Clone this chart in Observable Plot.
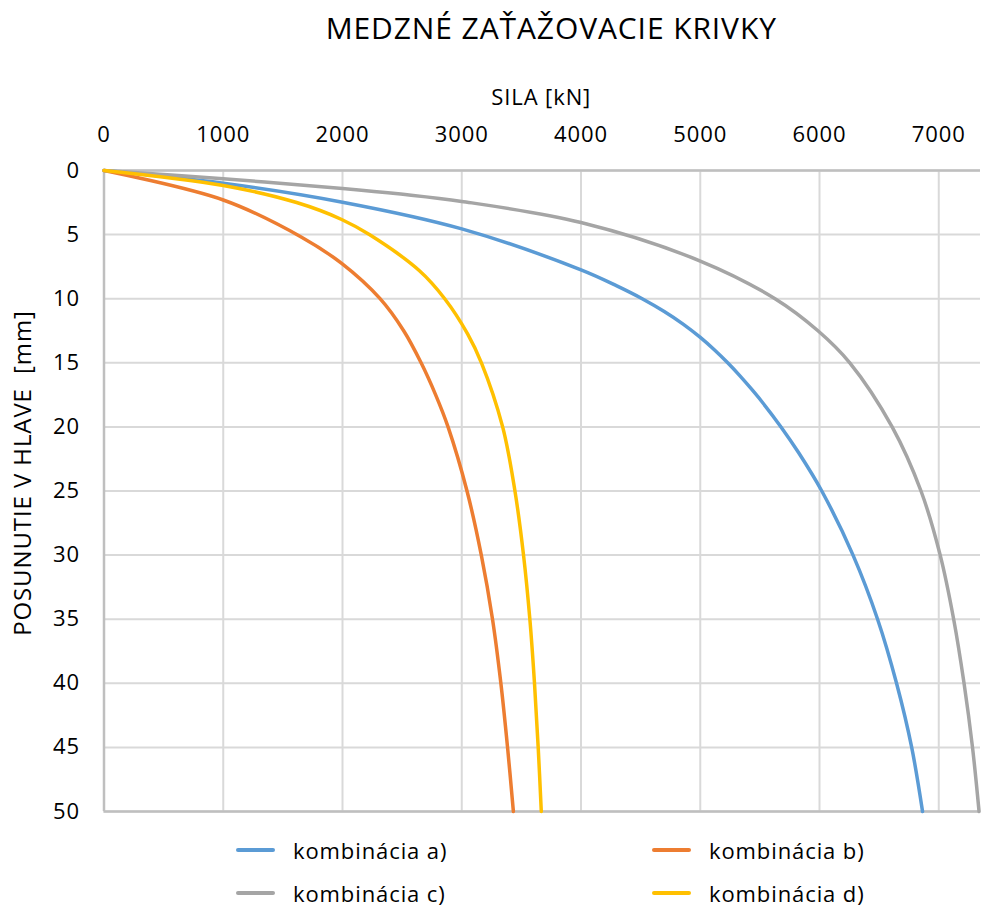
<!DOCTYPE html>
<html><head><meta charset="utf-8">
<script src="https://cdn.jsdelivr.net/npm/d3@7"></script>
<script src="https://cdn.jsdelivr.net/npm/@observablehq/plot@0.6"></script>
<style>
body{margin:0;background:#fff;font-family:"Open Sans",sans-serif;}
#wrap{position:relative;width:989px;height:909px;overflow:hidden;background:#fff;}
#wrap svg{position:absolute;left:0;top:0;}
#wrap svg text{letter-spacing:0.9px;}
.leg{position:absolute;display:flex;align-items:center;height:30px;font-size:22px;letter-spacing:0.9px;color:#000;white-space:nowrap;}
.sw{width:39px;height:4px;border-radius:2px;margin-right:18px;}
</style></head><body><div id="wrap"></div>
<script>
const title = "MEDZNÉ ZAŤAŽOVACIE KRIVKY";
const xLabel = "SILA [kN]";
const yLabel = "POSUNUTIE V HLAVE\u00a0 [mm]";
const seriesNames = ["kombinácia a)", "kombinácia b)", "kombinácia c)", "kombinácia d)"];
const seriesColors = ["#5b9bd5", "#ed7d31", "#a5a5a5", "#ffc000"];
const xTicks = [0, 1000, 2000, 3000, 4000, 5000, 6000, 7000];
const yTicks = [0, 5, 10, 15, 20, 25, 30, 35, 40, 45, 50];

// kombinácia a)
const forceA = [0, 1000, 2000, 3000, 4000, 4300, 4513, 4698, 4859, 4998, 5120, 5230, 5331, 5425, 5514, 5677, 5824, 6019, 6281, 6487, 6646, 6773, 6864];
const dispA  = [0, 0.99, 2.47, 4.55, 7.75, 9, 10, 11, 12, 13, 14, 15, 16, 17, 18, 20, 22, 25, 30, 35, 40, 45, 50];
// kombinácia b)
const forceB = [0, 1000, 1657, 1993, 2315, 2513, 2659, 2781, 2885, 3044, 3164, 3258, 3328, 3384, 3433];
const dispB  = [0, 2.3, 5.2, 7.25, 10, 12.5, 15, 17.5, 20, 25, 30, 35, 40, 45, 50];
// kombinácia c)
const forceC = [0, 1000, 2000, 2488, 3000, 4000, 5000, 5627, 5987, 6254, 6609, 6851, 7012, 7125, 7212, 7283, 7338];
const dispC  = [0, 0.65, 1.40, 1.84, 2.41, 4.06, 7.06, 10, 12.5, 15, 20, 25, 30, 35, 40, 45, 50];
// kombinácia d)
const forceD = [0, 1000, 1615, 1993, 2225, 2643, 2857, 3049, 3165, 3343, 3446, 3518, 3571, 3610, 3641, 3667];
const dispD  = [0, 1.17, 2.5, 3.82, 5, 7.8, 10, 12.74, 15, 20, 25, 30, 35, 40, 45, 50];

const allForce = [forceA, forceB, forceC, forceD];
const allDisp = [dispA, dispB, dispC, dispD];
const rows = [];
allForce.forEach((f, s) => f.forEach((v, i) => rows.push({series: seriesNames[s], force: v, disp: allDisp[s][i]})));

const W = 989, H = 830;
const gridColor = "#d9d9d9", axisColor = "#bfbfbf";

const chart = Plot.plot({
  width: W, height: H,
  marginLeft: 103.5, marginRight: 9, marginTop: 170, marginBottom: H - 811,
  style: {fontFamily: "'Open Sans', sans-serif", background: "#fff", color: "#000"},
  x: {domain: [0, 7350], ticks: xTicks, label: null},
  y: {domain: [0, 50], reverse: true, ticks: yTicks, label: null},
  color: {domain: seriesNames, range: seriesColors},
  marks: [
    Plot.gridX(xTicks, {stroke: gridColor, strokeOpacity: 1, strokeWidth: 2}),
    Plot.gridY(yTicks, {stroke: gridColor, strokeOpacity: 1, strokeWidth: 2}),
    Plot.ruleY([0, 50], {stroke: axisColor, strokeWidth: 2.5}),
    Plot.ruleX([0], {stroke: axisColor, strokeWidth: 2.5}),
    Plot.axisX(xTicks, {anchor: "top", tickSize: 0, tickPadding: 29, fontSize: 22, label: null, fill: "#000", tickFormat: d => String(d)}),
    Plot.axisY(yTicks, {anchor: "left", tickSize: 0, tickPadding: 24, fontSize: 22, label: null, fill: "#000", tickFormat: d => String(d)}),
    Plot.line(rows, {x: "force", y: "disp", z: "series", stroke: "series", strokeWidth: 3.5, curve: "catmull-rom"}),
    Plot.text([title], {text: d => d, frameAnchor: "top", lineAnchor: "bottom", dx: 9, dy: -132, fontSize: 30, fill: "#000"}),
    Plot.text([xLabel], {text: d => d, frameAnchor: "top", lineAnchor: "bottom", dx: -1, dy: -66, fontSize: 22, fill: "#000"}),
    Plot.text([yLabel], {text: d => d, frameAnchor: "left", textAnchor: "middle", rotate: -90, lineAnchor: "middle", dx: -80.5, dy: -18, fontSize: 24, fill: "#000"})
  ]
});
const wrap = document.getElementById("wrap");
wrap.appendChild(chart);

const legPos = [[236, 850], [652, 850], [236, 893], [652, 893]];
seriesNames.forEach((name, i) => {
  const d = document.createElement("div");
  d.className = "leg";
  d.style.left = legPos[i][0] + "px";
  d.style.top = (legPos[i][1] - 15) + "px";
  const sw = document.createElement("span");
  sw.className = "sw";
  sw.style.background = seriesColors[i];
  const t = document.createElement("span");
  t.textContent = name;
  d.appendChild(sw); d.appendChild(t);
  wrap.appendChild(d);
});
</script></body></html>
